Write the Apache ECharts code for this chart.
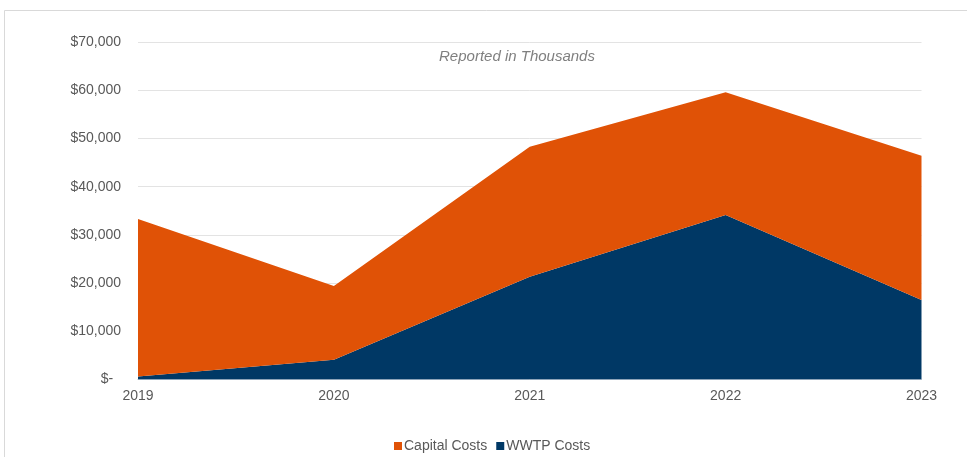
<!DOCTYPE html>
<html>
<head>
<meta charset="utf-8">
<script src="https://cdn.jsdelivr.net/npm/echarts@6/dist/echarts.min.js"></script>
<style>
  html, body { margin: 0; padding: 0; background: #fff; }
  #chart { width: 967px; height: 457px; }
</style>
</head>
<body>
<div id="chart"></div>
<script>
// Annual costs, reported in thousands of dollars
const years = ['2019', '2020', '2021', '2022', '2023'];
const wwtpCosts = [600, 4100, 21300, 34100, 16500];
const capitalCosts = [32700, 15300, 27000, 25500, 29900];
const yTicks = [0, 10000, 20000, 30000, 40000, 50000, 60000, 70000];

const ORANGE = '#E05206';
const NAVY = '#003865';
const TEXT = '#595959';
const FONT = '"Liberation Sans", Arial, sans-serif';

function money(v) {
  if (v === 0) return '$-  ';
  return '$' + v.toLocaleString('en-US');
}

const chart = echarts.init(document.getElementById('chart'), null, { renderer: 'canvas' });
chart.setOption({
  animation: false,
  backgroundColor: '#fff',
  textStyle: { fontFamily: FONT },
  graphic: [{
    type: 'rect',
    shape: { x: 4.5, y: 10.5, width: 1000, height: 500 },
    style: { fill: 'none', stroke: '#d9d9d9', lineWidth: 1 },
    silent: true
  }],
  title: {
    text: 'Reported in Thousands',
    left: 512, top: 44, textAlign: 'center',
    textStyle: { fontFamily: FONT, fontSize: 15, fontStyle: 'italic', fontWeight: 'normal', color: '#7f7f7f' }
  },
  legend: {
    data: ['Capital Costs', 'WWTP Costs'],
    left: 394, top: 439, padding: 0,
    icon: 'rect', itemWidth: 8, itemHeight: 8, itemGap: 9,
    textStyle: { fontFamily: FONT, fontSize: 14, color: TEXT, padding: [0, 0, 0, -3] }
  },
  grid: { left: 138, right: 45.5, top: 42, bottom: 77.5, containLabel: false },
  xAxis: {
    type: 'category',
    data: years,
    boundaryGap: false,
    axisLine: { show: true, lineStyle: { color: '#bcc8d6', width: 1 } },
    axisTick: { show: false },
    axisLabel: { color: TEXT, fontSize: 14, fontFamily: FONT, margin: 10 }
  },
  yAxis: {
    type: 'value',
    min: yTicks[0], max: yTicks[yTicks.length - 1], interval: yTicks[1] - yTicks[0],
    axisLine: { show: false },
    axisTick: { show: false },
    splitLine: { lineStyle: { color: '#e3e3e3', width: 1 } },
    axisLabel: { color: TEXT, fontSize: 14, fontFamily: FONT, margin: 17, formatter: money }
  },
  series: [
    {
      name: 'WWTP Costs', type: 'line', stack: 'total',
      data: wwtpCosts, symbol: 'none',
      lineStyle: { width: 0 }, itemStyle: { color: NAVY },
      areaStyle: { color: NAVY, opacity: 1 }
    },
    {
      name: 'Capital Costs', type: 'line', stack: 'total',
      data: capitalCosts, symbol: 'none',
      lineStyle: { width: 0 }, itemStyle: { color: ORANGE },
      areaStyle: { color: ORANGE, opacity: 1 }
    }
  ]
});
</script>
</body>
</html>
